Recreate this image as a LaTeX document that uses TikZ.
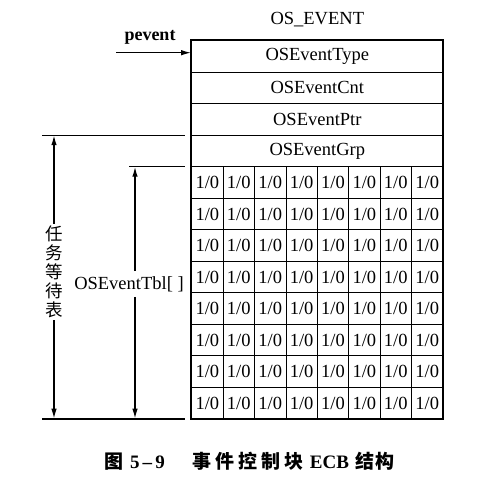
\documentclass[tikz,border=0pt]{standalone}
\usepackage{fontspec}
\setmainfont{Liberation Serif}
\newfontfamily\cjk{Noto Sans CJK SC}
\usepackage{tikz}
\usetikzlibrary{arrows.meta}

\begin{document}
\begin{tikzpicture}[x=1pt,y=-1pt,
  field/.style={draw,line width=1.1pt,minimum width=251.2pt,minimum height=31.5pt,inner sep=0pt,font=\fontsize{18.5}{19}\selectfont},
  cell/.style={draw,line width=0.8pt,minimum width=31.4pt,minimum height=31.5pt,inner sep=0pt,font=\fontsize{18.5}{19}\selectfont},
  arr/.style={-{Latex[length=10pt,width=5.5pt]},line width=1.4pt}]
\useasboundingbox (0,0) rectangle (502,479);

% Title
\node[font=\fontsize{18.5}{19}\selectfont] (title) at (317.3,20) {OS\_EVENT};

% Fields of the event block
\foreach \name [count=\i] in {OSEventType,OSEventCnt,OSEventPtr,OSEventGrp}
  \node[field] (f\i) at (317.3,{40.7+31.5*(\i-0.5)}) {\name};

% Wait table cells
\foreach \r in {1,...,8}
  \foreach \c in {1,...,8}
    \node[cell] (c\r-\c) at ({191.7+31.4*(\c-0.5)},{166.7+31.5*(\r-0.5)}) {1/0};

% Outer frame
\draw[line width=1.8pt] (f1.north west) rectangle (c8-8.south east);

% Pointer
\node[font=\bfseries\fontsize{18}{19}\selectfont] (pev) at (150,37) {pevent};
\coordinate (pevS) at (116,52.7);
\draw[arr] (pevS) -- (pevS -| f1.west);

% Extent lines on the left
\coordinate (wt) at (54,135.2);
\coordinate (wb) at (54,418.7);
\coordinate (tt) at (135,166.7);
\coordinate (tb) at (135,418.7);
\draw[line width=1.2pt] (42,135.2) -- (185,135.2);
\draw[line width=1.2pt] (129,166.7) -- (185,166.7);
\draw[line width=2pt] (42,418.7) -- (185,418.7);

% Task wait table
\node[font=\cjk\fontsize{17.5}{19}\selectfont,align=center,inner sep=2pt] (wait) at (54,272) {任\\务\\等\\待\\表};
\draw[arr] (wait.north) -- (wt);
\draw[arr] (wait.south) -- (wb);

% OSEventTbl
\node[font=\fontsize{18.5}{19}\selectfont,inner sep=5pt] (tbl) at (129,284) {OSEventTbl[ ]};
\draw[arr] (tbl.north -| tt) -- (tt);
\draw[arr] (tbl.south -| tt) -- (tb);

% Caption
\node[font=\cjk\bfseries\fontsize{19}{19}\selectfont] (cap) at (249.5,461)
  {图\hspace{7pt}{\rmfamily\bfseries\fontsize{19}{19}\selectfont 5\,\textendash\,9}\hspace{28pt}事\kern4pt件\kern4pt控\kern4pt制\kern4pt块\hspace{6pt}{\rmfamily\bfseries\fontsize{19}{19}\selectfont ECB}\hspace{7pt}结\kern1pt构};
\end{tikzpicture}
\end{document}
